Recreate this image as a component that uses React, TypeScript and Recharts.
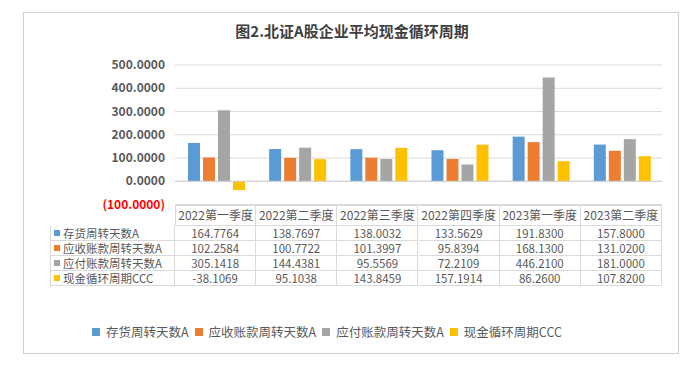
import React from 'react';
import { BarChart, Bar, XAxis, YAxis, CartesianGrid, ReferenceLine } from 'recharts';

const quarters = ['2022第一季度', '2022第二季度', '2022第三季度', '2022第四季度', '2023第一季度', '2023第二季度'];
const inventoryDays = [164.7764, 138.7697, 138.0032, 133.5629, 191.83, 157.8];
const receivableDays = [102.2584, 100.7722, 101.3997, 95.8394, 168.13, 131.02];
const payableDays = [305.1418, 144.4381, 95.5569, 72.2109, 446.21, 181.0];
const cashCycle = [-38.1069, 95.1038, 143.8459, 157.1914, 86.26, 107.82];
const yTicks = [-100, 0, 100, 200, 300, 400, 500];

const series = [
  { key: 'inv', name: '存货周转天数A', color: '#5B9BD5', values: inventoryDays },
  { key: 'rec', name: '应收账款周转天数A', color: '#ED7D31', values: receivableDays },
  { key: 'pay', name: '应付账款周转天数A', color: '#A5A5A5', values: payableDays },
  { key: 'ccc', name: '现金循环周期CCC', color: '#FFC000', values: cashCycle },
];

const data = quarters.map((q, i) => {
  const row: Record<string, string | number> = { quarter: q };
  series.forEach((s) => (row[s.key] = s.values[i]));
  return row;
});

const FONT = '"Noto Sans CJK SC", "Noto Sans", sans-serif';
const GRID = '#d9d9d9';
const TEXT = '#595959';

// layout of plot / table
const PLOT_LEFT = 175;
const PLOT_RIGHT = 662;
const PLOT_TOP = 65;
const PLOT_BOTTOM = 204.5;
const COL_W = (PLOT_RIGHT - PLOT_LEFT) / quarters.length;
const LABEL_LEFT = 50;
const HEADER_H = 21;
const ROW_H = 15;

const fmtTick = (v: number) => (v < 0 ? `(${Math.abs(v).toFixed(4)})` : v.toFixed(4));

function YTick(props: any) {
  const { x, y, payload } = props;
  const neg = payload.value < 0;
  return (
    <text
      x={x - 2}
      y={y}
      dy={4}
      textAnchor="end"
      fontFamily={FONT}
      fontSize={12}
      fontWeight="bold"
      fill={neg ? '#FF0000' : TEXT}
    >
      {fmtTick(payload.value)}
    </text>
  );
}

function cell(
  key: string,
  left: number,
  top: number,
  width: number,
  height: number,
  content: React.ReactNode,
  opts: { top?: boolean; left?: boolean; align?: 'center' | 'flex-start'; size?: number } = {},
) {
  return (
    <div
      key={key}
      style={{
        position: 'absolute',
        left,
        top,
        width,
        height,
        boxSizing: 'border-box',
        borderRight: `1px solid ${GRID}`,
        borderBottom: `1px solid ${GRID}`,
        borderTop: opts.top ? `1px solid ${GRID}` : undefined,
        borderLeft: opts.left ? `1px solid ${GRID}` : undefined,
        display: 'flex',
        alignItems: 'center',
        justifyContent: opts.align ?? 'center',
        fontSize: opts.size ?? 11.5,
        color: TEXT,
        whiteSpace: 'nowrap',
        lineHeight: '12px',
      }}
    >
      {content}
    </div>
  );
}

export default function App() {
  const cells: React.ReactNode[] = [];
  quarters.forEach((q, i) => {
    cells.push(
      cell(`h${i}`, PLOT_LEFT + i * COL_W, PLOT_BOTTOM, COL_W, HEADER_H, q, { top: true, left: i === 0, size: 12 }),
    );
  });
  series.forEach((s, r) => {
    const top = PLOT_BOTTOM + HEADER_H + r * ROW_H;
    cells.push(
      cell(
        `l${r}`,
        LABEL_LEFT,
        top,
        PLOT_LEFT - LABEL_LEFT,
        ROW_H,
        <>
          <span style={{ display: 'inline-block', width: 6, height: 6, background: s.color, marginLeft: 3, marginRight: 3 }} />
          <span style={{ fontSize: 11.5, lineHeight: '12px' }}>{s.name}</span>
        </>,
        { left: true, align: 'flex-start' },
      ),
    );
    s.values.forEach((v, i) => {
      cells.push(cell(`c${r}-${i}`, PLOT_LEFT + i * COL_W, top, COL_W, ROW_H, v.toFixed(4)));
    });
  });

  return (
    <div
      style={{
        position: 'absolute',
        left: 0,
        top: 0,
        width: 700,
        height: 377,
        background: '#fff',
        fontFamily: FONT,
      }}
    >
      <div
        style={{
          position: 'absolute',
          left: 23,
          top: 12,
          width: 656,
          height: 342,
          boxSizing: 'border-box',
          border: '1px solid #d0d0d0',
        }}
      />
      <div
        style={{
          position: 'absolute',
          left: 0,
          width: 700,
          top: 20,
          textAlign: 'center',
          fontSize: 15,
          fontWeight: 'bold',
          color: '#404040',
          paddingLeft: 2,
        }}
      >
        图2.北证A股企业平均现金循环周期
      </div>
      <div style={{ position: 'absolute', left: 0, top: 0 }}>
        <BarChart
          width={700}
          height={377}
          data={data}
          margin={{ top: PLOT_TOP, right: 700 - PLOT_RIGHT, bottom: 377 - PLOT_BOTTOM, left: 0 }}
          barGap={3}
          barCategoryGap="16%"
        >
          <CartesianGrid vertical={false} stroke={GRID} />
          <XAxis dataKey="quarter" hide />
          <YAxis
            width={PLOT_LEFT}
            domain={[-100, 500]}
            ticks={yTicks}
            axisLine={false}
            tickLine={false}
            tick={<YTick />}
            interval={0}
          />
          <ReferenceLine y={0} stroke="#d0d0d0" />
          {series.map((s) => (
            <Bar key={s.key} dataKey={s.key} name={s.name} fill={s.color} isAnimationActive={false} />
          ))}
        </BarChart>
      </div>
      {cells}
      <div
        style={{
          position: 'absolute',
          left: 92,
          top: 324,
          display: 'flex',
          alignItems: 'center',
          fontSize: 12.5,
          lineHeight: '16px',
          color: TEXT,
          whiteSpace: 'nowrap',
        }}
      >
        {series.map((s) => (
          <span key={s.key} style={{ display: 'flex', alignItems: 'center', marginRight: 6 }}>
            <span style={{ display: 'inline-block', width: 8, height: 8, background: s.color, marginRight: 6 }} />
            {s.name}
          </span>
        ))}
      </div>
    </div>
  );
}
